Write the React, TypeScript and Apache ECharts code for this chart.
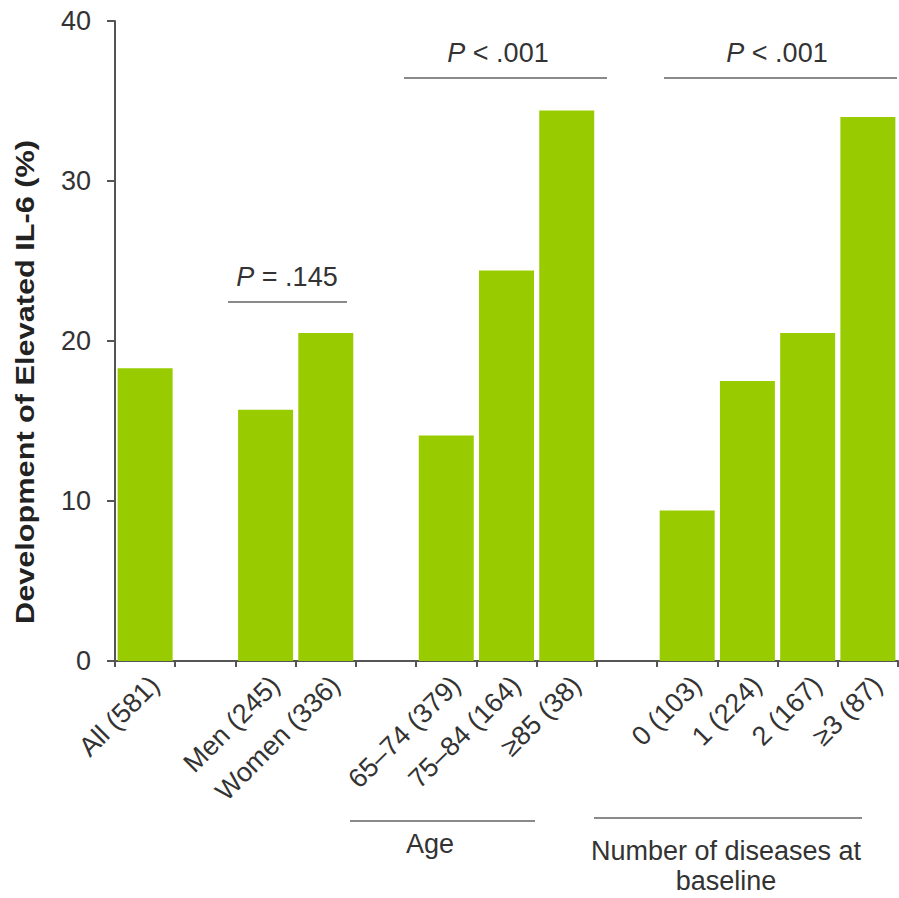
import React, { useEffect, useRef } from "react";
import * as echarts from "echarts";

const categories = [
  "All (581)",
  "",
  "Men (245)",
  "Women (336)",
  " ",
  "65–74 (379)",
  "75–84 (164)",
  "≥85 (38)",
  "  ",
  "0 (103)",
  "1 (224)",
  "2 (167)",
  "≥3 (87)",
];
const values: (number | null)[] = [18.3, null, 15.7, 20.5, null, 14.1, 24.4, 34.4, null, 9.4, 17.5, 20.5, 34.0];
const yTicks = { min: 0, max: 40, interval: 10 };
const yAxisTitle = "Development of Elevated IL-6 (%)";
const pLabels = ["P = .145", "P < .001", "P < .001"];
const groupLabels = ["Age", "Number of diseases at\nbaseline"];

const FONT = "Liberation Sans, Arial, Helvetica, sans-serif";
const LINE = "#8a8a8a";
const FS = 27;

export default function App() {
  const ref = useRef<HTMLDivElement>(null);
  useEffect(() => {
    if (!ref.current) return;
    const chart = echarts.init(ref.current, undefined, { renderer: "svg" });
    const pText = (s: string) => `{i|${s.slice(0, 1)}}{n|${s.slice(1)}}`;
    const rich = {
      i: { fontStyle: "italic", fontSize: FS, fontFamily: FONT, fill: "#333", color: "#333" },
      n: { fontSize: FS, fontFamily: FONT, fill: "#333", color: "#333" },
    };
    chart.setOption({
      animation: false,
      backgroundColor: "#fff",
      grid: { left: 115, top: 21, width: 783, height: 640, containLabel: false },
      xAxis: {
        type: "category",
        data: categories,
        boundaryGap: true,
        axisLine: { lineStyle: { color: "#555", width: 2 } },
        axisTick: { show: true, interval: 0, length: 6, lineStyle: { color: "#555", width: 2 } },
        axisLabel: {
          interval: 0,
          rotate: 45,
          fontSize: FS,
          fontFamily: FONT,
          color: "#333",
          margin: 10,
          verticalAlign: "top",
        },
      },
      yAxis: {
        type: "value",
        min: yTicks.min,
        max: yTicks.max,
        interval: yTicks.interval,
        splitLine: { show: false },
        axisLine: { show: true, lineStyle: { color: "#555", width: 2 } },
        axisTick: { show: true, length: 8, lineStyle: { color: "#555", width: 2 } },
        axisLabel: { fontSize: FS, fontFamily: FONT, color: "#333", margin: 24 },
      },
      series: [
        {
          type: "bar",
          data: values,
          barWidth: 55,
          itemStyle: { color: "#99CC00" },
          silent: true,
        },
      ],
      graphic: [
        {
          type: "text",
          x: 25,
          y: 382,
          rotation: Math.PI / 2,
          scaleX: 1.18,
          style: {
            text: yAxisTitle,
            fontSize: 26,
            fontWeight: "bold",
            fontFamily: FONT,
            fill: "#222",
            align: "center",
            verticalAlign: "middle",
          },
        },
        { type: "line", shape: { x1: 228, y1: 302, x2: 347, y2: 302 }, style: { stroke: LINE, lineWidth: 2 } },
        { type: "text", x: 287, y: 277, style: { text: pText(pLabels[0]), rich, align: "center", verticalAlign: "middle" } },
        { type: "line", shape: { x1: 404, y1: 78, x2: 607, y2: 78 }, style: { stroke: LINE, lineWidth: 2 } },
        { type: "text", x: 498, y: 53, style: { text: pText(pLabels[1]), rich, align: "center", verticalAlign: "middle" } },
        { type: "line", shape: { x1: 664, y1: 78, x2: 897, y2: 78 }, style: { stroke: LINE, lineWidth: 2 } },
        { type: "text", x: 777, y: 53, style: { text: pText(pLabels[2]), rich, align: "center", verticalAlign: "middle" } },
        { type: "line", shape: { x1: 350, y1: 821, x2: 535, y2: 821 }, style: { stroke: LINE, lineWidth: 2 } },
        {
          type: "text",
          x: 430,
          y: 844,
          style: { text: groupLabels[0], fontSize: FS, fontFamily: FONT, fill: "#333", align: "center", verticalAlign: "middle" },
        },
        { type: "line", shape: { x1: 594, y1: 818, x2: 862, y2: 818 }, style: { stroke: LINE, lineWidth: 2 } },
        {
          type: "text",
          x: 726,
          y: 866,
          style: {
            text: groupLabels[1],
            fontSize: FS,
            lineHeight: 30,
            fontFamily: FONT,
            fill: "#333",
            align: "center",
            verticalAlign: "middle",
          },
        },
      ],
    });
    return () => chart.dispose();
  }, []);
  return <div ref={ref} style={{ position: "absolute", left: 0, top: 0, width: 899, height: 898 }} />;
}
